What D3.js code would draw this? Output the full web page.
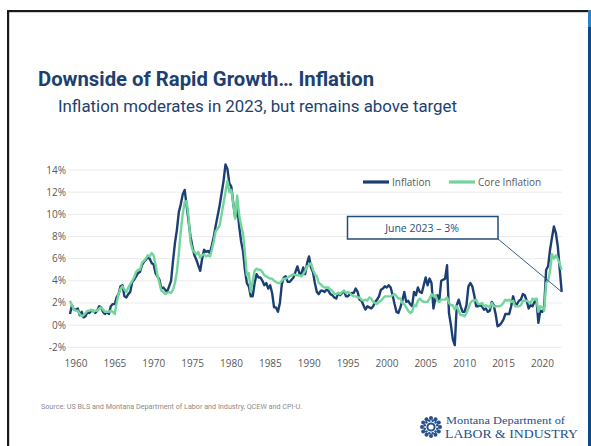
<!DOCTYPE html>
<html>
<head>
<meta charset="utf-8">
<script src="https://cdn.jsdelivr.net/npm/d3@7/dist/d3.min.js"></script>
<style>
  html, body { margin: 0; padding: 0; background: #fff; }
  svg { display: block; }
</style>
</head>
<body>
<svg id="chart" width="591" height="446"></svg>
<script>
// ---------------- DATA ----------------
const startYear = 1960;           // quarterly observations, starting Q1 1960
const inflation = [
  1.0,1.8,1.4,1.4,  1.5,0.9,1.2,0.7,  0.8,1.2,1.1,1.3,  1.3,1.1,1.3,1.7,  1.6,1.2,1.0,1.2,
  1.0,1.7,1.9,1.9,  2.5,2.8,3.5,3.6,  2.6,2.5,2.8,3.0,  3.9,4.1,4.4,4.7,  4.8,5.4,5.7,5.9,
  6.1,6.0,5.6,5.5,  4.7,4.4,4.1,3.3,  3.4,3.2,3.0,3.5,  4.0,5.8,7.4,8.6,  10.2,10.9,11.8,12.2,
  10.8,9.4,8.0,7.1, 6.3,5.9,5.4,4.9,  6.0,6.8,6.6,6.7,  6.5,7.2,8.0,9.0,  9.9,10.8,11.9,13.0,
  14.5,14.1,12.8,12.5, 11.0,9.7,10.8,9.0, 7.6,6.7,5.0,3.8, 3.5,2.6,2.6,3.8, 4.6,4.3,4.3,4.0,
  3.6,3.8,3.3,3.6,  2.9,1.6,1.6,1.2,  2.0,3.7,4.3,4.4,  3.9,3.9,4.1,4.3,  4.8,5.3,4.7,4.6,
  5.2,4.6,5.6,6.2,  5.2,4.8,3.8,3.0,  2.8,3.1,3.1,3.0,  3.2,3.1,2.8,2.7,  2.5,2.4,2.9,2.7,
  2.9,3.1,2.6,2.6,  2.8,2.9,2.9,3.3,  3.0,2.3,2.2,1.8,  1.4,1.7,1.6,1.5,  1.7,2.1,2.3,2.6,
  3.2,3.3,3.5,3.4,  3.6,3.4,2.7,1.9,  1.2,1.1,1.6,2.2,  3.0,2.1,2.2,1.9,  1.7,3.0,2.7,3.4,
  3.0,2.9,3.6,4.3,  3.6,4.2,3.8,1.5,  2.4,2.7,2.2,4.0,  4.1,4.2,5.4,1.1,  0.0,-1.3,-1.8,1.8,
  2.3,1.7,1.2,1.2,  1.8,3.5,3.8,3.5,  2.7,1.7,1.7,1.8,  1.7,1.4,1.5,1.2,  1.3,2.1,1.8,1.0,
  -0.1,0.0,0.2,0.5, 1.0,1.0,1.0,1.7,  2.6,1.9,1.9,2.2,  2.3,2.8,2.7,2.2,  1.5,1.8,1.7,2.1,
  2.3,0.2,1.3,1.2,  1.7,5.0,5.3,6.8,  7.9,8.9,8.3,7.1,  5.0,3.0
];
const coreInflation = [
  2.2,1.8,1.4,1.3,  1.3,1.0,0.8,0.9,  1.1,1.3,1.3,1.4,  1.2,1.3,1.3,1.5,  1.6,1.4,1.2,1.2,
  1.2,1.3,1.2,1.0,  2.0,2.8,3.3,3.5,  3.2,3.0,3.4,3.7,  4.0,4.3,4.8,5.0,  5.0,5.6,5.8,6.0,
  6.3,6.2,6.5,6.3,  5.5,4.5,3.8,3.1,  3.0,2.8,2.9,3.0,  2.9,3.2,3.8,4.8,  6.5,8.5,10.0,11.1,
  11.2,9.8,7.5,6.8, 6.6,6.4,6.6,6.1,  6.3,6.4,6.2,6.3,  6.2,6.8,7.6,8.5,  8.7,9.0,10.0,11.0,
  12.0,13.0,12.0,12.2, 11.0,9.6,11.7,10.0, 9.0,8.3,6.5,4.5, 4.7,3.0,4.0,4.9, 5.1,5.0,5.0,4.8,
  4.5,4.4,4.3,4.2,  4.2,4.0,3.9,3.8,  3.8,4.0,4.2,4.2,  4.3,4.4,4.5,4.6,  4.5,4.5,4.5,4.4,
  4.6,4.9,5.3,5.4,  5.6,5.0,4.6,4.4,  3.8,3.7,3.5,3.4,  3.4,3.4,3.2,3.1,  2.8,2.8,2.9,2.8,
  3.0,3.1,2.9,3.0,  2.9,2.7,2.6,2.6,  2.5,2.5,2.3,2.2,  2.3,2.2,2.5,2.4,  2.1,2.0,1.9,2.1,
  2.2,2.4,2.6,2.6,  2.6,2.6,2.7,2.8,  2.6,2.4,2.4,2.0,  1.9,1.6,1.3,1.1,  1.2,1.8,1.7,2.2,
  2.4,2.2,2.1,2.1,  2.1,2.4,2.8,2.6,  2.7,2.2,2.1,2.3,  2.3,2.3,2.5,2.0,  1.8,1.8,1.4,1.7,
  1.3,0.9,0.9,0.8,  1.1,1.5,2.0,2.2,  2.2,2.3,1.9,1.9,  2.0,1.7,1.8,1.7,  1.6,2.0,1.7,1.7,
  1.7,1.7,1.8,2.0,  2.3,2.2,2.3,2.1,  2.2,1.7,1.7,1.7,  1.8,2.2,2.2,2.2,  2.1,2.0,2.4,2.3,
  2.4,1.2,1.7,1.6,  1.3,3.8,4.0,4.9,  6.4,6.0,6.3,6.0,  5.5,5.0
];
const yTicks = [-2, 0, 2, 4, 6, 8, 10, 12, 14];
const xTickYears = [1960, 1965, 1970, 1975, 1980, 1985, 1990, 1995, 2000, 2005, 2010, 2015, 2020];
const seriesNames = ["Inflation", "Core Inflation"];
const seriesColors = ["#1b3f72", "#72d59c"];
const title = "Downside of Rapid Growth\u2026 Inflation";
const subtitle = "Inflation moderates in 2023, but remains above target";
const annotation = "June 2023 \u2013 3%";
const source = "Source: US BLS and Montana Department of Labor and Industry, QCEW and CPI-U.";

// ---------------- SETUP ----------------
const svg = d3.select("#chart");
const t = i => startYear + (i + 0.5) / 4;

const x = d3.scaleLinear().domain([t(0), t(inflation.length - 1)]).range([70, 561.7]);
const y = d3.scaleLinear().domain([-2, 14]).range([347.3, 170]);

// Frame
svg.append("rect").attr("x", 7).attr("y", 10).attr("width", 581).attr("height", 2.2).attr("fill", "#1a1a1a");
svg.append("rect").attr("x", 7).attr("y", 10).attr("width", 2.2).attr("height", 436).attr("fill", "#1a1a1a");
svg.append("rect").attr("x", 588).attr("y", 10).attr("width", 3).attr("height", 17).attr("fill", "#2b84c7");
svg.append("rect").attr("x", 588).attr("y", 27).attr("width", 3).attr("height", 419).attr("fill", "#0c4a85");

// Titles
svg.append("text").attr("x", 38).attr("y", 86)
  .attr("font-family", "'Liberation Sans Narrow', 'Roboto', sans-serif")
  .attr("font-weight", "bold").attr("font-size", 21).attr("fill", "#1c4170")
  .attr("textLength", 336).attr("lengthAdjust", "spacingAndGlyphs")
  .text(title);
svg.append("text").attr("x", 58).attr("y", 112)
  .attr("font-family", "'Liberation Sans Narrow', 'Roboto', sans-serif")
  .attr("font-size", 17).attr("fill", "#1c4170")
  .attr("textLength", 399).attr("lengthAdjust", "spacingAndGlyphs")
  .text(subtitle);

// Grid + y labels
const g = svg.append("g");
g.selectAll("line.grid").data(yTicks).join("line")
  .attr("class", "grid")
  .attr("x1", 68).attr("x2", 562)
  .attr("y1", d => y(d)).attr("y2", d => y(d))
  .attr("stroke", "#ebebeb").attr("stroke-width", 1);
g.selectAll("text.ylab").data(yTicks).join("text")
  .attr("class", "ylab")
  .attr("x", 66).attr("y", d => y(d) + 3.5)
  .attr("text-anchor", "end")
  .attr("font-family", "'Open Sans', sans-serif").attr("font-size", 10)
  .attr("fill", "#595959")
  .text(d => d + "%");
g.selectAll("text.xlab").data(xTickYears).join("text")
  .attr("class", "xlab")
  .attr("x", d => x(d + 0.9)).attr("y", 367)
  .attr("text-anchor", "middle")
  .attr("font-family", "'Open Sans', sans-serif").attr("font-size", 10)
  .attr("fill", "#595959")
  .text(d => d);

// Lines
const line = d3.line().x((d, i) => x(t(i))).y(d => y(d)).curve(d3.curveLinear);
[inflation, coreInflation].forEach((s, k) => {
  svg.append("path").datum(s)
    .attr("d", line)
    .attr("fill", "none")
    .attr("stroke", seriesColors[k])
    .attr("stroke-width", 2.4)
    .attr("stroke-linejoin", "round");
});

// Legend
const legendItems = [{x1: 363, tx: 392}, {x1: 449, tx: 478}];
legendItems.forEach((it, k) => {
  svg.append("line").attr("x1", it.x1).attr("x2", it.x1 + 26)
    .attr("y1", 182).attr("y2", 182)
    .attr("stroke", seriesColors[k]).attr("stroke-width", 3.2);
  svg.append("text").attr("x", it.tx).attr("y", 185.5)
    .attr("font-family", "'Open Sans', sans-serif").attr("font-size", 10)
    .attr("fill", "#595959").text(seriesNames[k]);
});

// Annotation
const lastI = inflation.length - 1;
svg.append("line")
  .attr("x1", 498).attr("y1", 239)
  .attr("x2", x(t(lastI))).attr("y2", y(inflation[lastI]))
  .attr("stroke", "#1f4e79").attr("stroke-width", 0.9);
svg.append("rect").attr("x", 347.5).attr("y", 216.5).attr("width", 150.5).attr("height", 22.5)
  .attr("fill", "#fff").attr("stroke", "#1f4e79").attr("stroke-width", 1.5);
svg.append("text").attr("x", 422).attr("y", 231.5)
  .attr("text-anchor", "middle")
  .attr("font-family", "'Open Sans', sans-serif").attr("font-size", 10.5)
  .attr("fill", "#1f4e79").text(annotation);

// Source
svg.append("text").attr("x", 41).attr("y", 409)
  .attr("font-family", "Roboto, sans-serif").attr("font-size", 7)
  .attr("fill", "#8a8a8a")
  .attr("textLength", 261).attr("lengthAdjust", "spacingAndGlyphs")
  .text(source);

// Logo
const logo = svg.append("g").attr("transform", "translate(431,427)");
const nDots = 12;
d3.range(nDots).forEach(i => {
  const a = i / nDots * 2 * Math.PI;
  logo.append("circle").attr("cx", Math.cos(a) * 9).attr("cy", Math.sin(a) * 9).attr("r", 2).attr("fill", "#25508a");
  const b = a + Math.PI / nDots;
  logo.append("circle").attr("cx", Math.cos(b) * 6.5).attr("cy", Math.sin(b) * 6.5).attr("r", 1.3).attr("fill", "#25508a");
});
logo.append("circle").attr("r", 3.6).attr("fill", "none").attr("stroke", "#25508a").attr("stroke-width", 2);
svg.append("text").attr("x", 446).attr("y", 424)
  .attr("font-family", "'Liberation Serif', serif").attr("font-size", 10)
  .attr("fill", "#25508a")
  .attr("textLength", 119).attr("lengthAdjust", "spacingAndGlyphs")
  .text("Montana Department of");
svg.append("text").attr("x", 445).attr("y", 437.5)
  .attr("font-family", "'Liberation Serif', serif").attr("font-size", 11.5)
  .attr("fill", "#25508a")
  .attr("textLength", 133).attr("lengthAdjust", "spacingAndGlyphs")
  .text("LABOR & INDUSTRY");
</script>
</body>
</html>
